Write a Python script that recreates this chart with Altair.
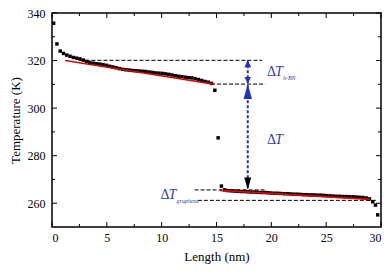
import altair as alt
import pandas as pd

# ---- data ----
length_nm = [0.15, 0.45, 0.75, 1.05, 1.35, 1.65, 1.95, 2.25, 2.55, 2.85,
             3.15, 3.45, 3.75, 4.05, 4.35, 4.65, 4.95, 5.25, 5.55, 5.85,
             6.15, 6.45, 6.75, 7.05, 7.35, 7.65, 7.95, 8.25, 8.55, 8.85,
             9.15, 9.45, 9.75, 10.05, 10.35, 10.65, 10.95, 11.25, 11.55, 11.85,
             12.15, 12.45, 12.75, 13.05, 13.35, 13.65, 13.95, 14.25, 14.55, 14.85,
             15.15, 15.45, 15.75, 16.05, 16.35, 16.65, 16.95, 17.25, 17.55, 17.85,
             18.15, 18.45, 18.75, 19.05, 19.35, 19.65, 19.95, 20.25, 20.55, 20.85,
             21.15, 21.45, 21.75, 22.05, 22.35, 22.65, 22.95, 23.25, 23.55, 23.85,
             24.15, 24.45, 24.75, 25.05, 25.35, 25.65, 25.95, 26.25, 26.55, 26.85,
             27.15, 27.45, 27.75, 28.05, 28.35, 28.65, 28.95, 29.25, 29.5, 29.7]
temp_K = [335.7, 327.0, 324.0, 323.0, 322.3, 321.8, 321.3, 321.0, 320.7, 320.2,
          319.6, 319.2, 318.9, 318.7, 318.5, 318.3, 318.0, 317.6, 317.3, 317.0,
          316.6, 316.3, 316.1, 316.0, 315.8, 315.7, 315.6, 315.5, 315.4, 315.2,
          315.0, 314.8, 314.7, 314.6, 314.4, 314.2, 313.9, 313.6, 313.4, 313.2,
          313.0, 312.8, 312.7, 312.4, 312.0, 311.6, 311.2, 310.9, 310.4, 307.5,
          287.5, 267.2, 265.6, 265.3, 265.2, 265.1, 265.0, 264.9, 264.9, 264.8,
          264.7, 264.7, 264.6, 264.5, 264.5, 264.4, 264.3, 264.2, 264.2, 264.1,
          264.0, 264.0, 263.9, 263.8, 263.8, 263.7, 263.6, 263.6, 263.5, 263.5,
          263.4, 263.4, 263.3, 263.2, 263.1, 263.0, 262.9, 262.9, 262.8, 262.8,
          262.7, 262.7, 262.6, 262.5, 262.4, 262.2, 261.8, 260.6, 259.2, 255.1]

# linear fits (red)
fit_id = ["hbn", "hbn", "gr", "gr"]
fit_x = [1.2, 14.8, 15.3, 29.0]
fit_y = [320.0, 310.0, 265.4, 261.6]

# dashed reference levels
ref_x1 = [2.5, 14.5, 13.0, 13.3]
ref_x2 = [19.15, 19.45, 19.6, 29.6]
ref_y = [320.1, 310.1, 265.6, 261.2]

# arrow (Delta T markers)
arrow_x = 17.85
arrow_top = 320.1
arrow_mid = 310.1
arrow_bot = 265.8

# annotations
ann_x = [19.6, 19.6, 9.9]
ann_y = [313.6, 284.8, 261.6]
ann_sub = ["h-BN", "", "graphene"]

# axis ticks
x_major = [0, 5, 10, 15, 20, 25, 30]
x_minor = [2.5, 7.5, 12.5, 17.5, 22.5, 27.5]
y_major = [260, 280, 300, 320, 340]
y_minor = [270, 290, 310, 330]

W, H = 329, 214
FONT = "Liberation Serif"
BLUE = "#2233bb"
TBLUE = "#3040b0"

xs = alt.Scale(domain=[0, 30], nice=False, zero=False)
ys = alt.Scale(domain=[250, 340], nice=False, zero=False)

df = pd.DataFrame({"x": length_nm, "y": temp_K})
fit = pd.DataFrame({"id": fit_id, "x": fit_x, "y": fit_y})
ref = pd.DataFrame({"x1": ref_x1, "x2": ref_x2, "y": ref_y})
ann = pd.DataFrame({"x": ann_x, "y": ann_y, "sub": ann_sub})

X = alt.X("x:Q", scale=xs, title="Length (nm)",
          axis=alt.Axis(values=x_major, labelPadding=5, titlePadding=7))
Y = alt.Y("y:Q", scale=ys, title="Temperature (K)",
          axis=alt.Axis(values=y_major, labelPadding=7, titlePadding=5))

pts = alt.Chart(df).mark_square(size=12, color="black", opacity=1).encode(x=X, y=Y)

fitl = alt.Chart(fit).mark_line(color="#e00000", strokeWidth=1.6).encode(
    x=alt.X("x:Q", scale=xs), y=alt.Y("y:Q", scale=ys), detail="id:N")

refl = alt.Chart(ref).mark_rule(color="black", strokeWidth=1, strokeDash=[4, 2]).encode(
    x=alt.X("x1:Q", scale=xs), x2="x2:Q", y=alt.Y("y:Q", scale=ys))

vline = alt.Chart(pd.DataFrame({"x": [arrow_x], "y1": [arrow_top], "y2": [arrow_bot]})).mark_rule(
    color=BLUE, strokeWidth=2, strokeDash=[3, 2]).encode(
    x=alt.X("x:Q", scale=xs), y=alt.Y("y1:Q", scale=ys), y2="y2:Q")

def head(xv, yv, path, color):
    return alt.Chart(pd.DataFrame({"x": [xv], "y": [yv]})).mark_point(
        shape=path, size=400, filled=True, color=color, opacity=1, strokeWidth=0).encode(
        x=alt.X("x:Q", scale=xs), y=alt.Y("y:Q", scale=ys))

heads = (head(arrow_x, arrow_top, "M0,0L-0.35,0.7L0.35,0.7Z", BLUE)
         + head(arrow_x, arrow_mid + 0.3, "M0,0L-0.33,-0.65L0.33,-0.65Z", BLUE)
         + head(arrow_x, arrow_mid, "M0,0L-0.42,1.5L0.42,1.5Z", BLUE)
         + head(arrow_x, arrow_bot, "M0,0L-0.35,-1.2L0.35,-1.2Z", "black"))

tbase = alt.Chart(ann).encode(x=alt.X("x:Q", scale=xs), y=alt.Y("y:Q", scale=ys))
t_delta = tbase.mark_text(text="Δ", font=FONT, fontSize=14, color=TBLUE,
                          align="left", baseline="alphabetic")
t_T = tbase.mark_text(text="T", font=FONT, fontSize=14, fontStyle="italic", color=TBLUE,
                      align="left", baseline="alphabetic", dx=8)
t_sub = tbase.mark_text(font=FONT, fontSize=6, fontStyle="italic", color=TBLUE,
                        align="left", baseline="alphabetic", dx=16, dy=4).encode(text="sub:N")

def xticks(vals, y0, y1):
    return alt.Chart(pd.DataFrame({"v": vals})).mark_rule(color="black", strokeWidth=1).encode(
        x=alt.X("v:Q", scale=xs), y=alt.value(y0), y2=alt.value(y1))

def yticks(vals, x0, x1):
    return alt.Chart(pd.DataFrame({"v": vals})).mark_rule(color="black", strokeWidth=1).encode(
        y=alt.Y("v:Q", scale=ys), x=alt.value(x0), x2=alt.value(x1))

ticks = (xticks(x_major, H, H - 5) + xticks(x_minor, H, H - 3)
         + xticks(x_major, 0, 5) + xticks(x_minor, 0, 3)
         + yticks(y_major, 0, 5) + yticks(y_minor, 0, 3)
         + yticks(y_major, W, W - 5) + yticks(y_minor, W, W - 3))

chart = alt.layer(ticks, refl, pts, fitl, vline, heads, t_delta, t_T, t_sub).properties(
    width=W, height=H,
    autosize=alt.AutoSizeParams(type="none"),
    padding={"left": 44, "top": 5, "right": 1, "bottom": 42},
).configure_view(stroke="black", strokeWidth=1.5).configure_axis(
    grid=False, domain=False, ticks=False,
    labelFont=FONT, labelFontSize=12, labelColor="black",
    titleFont=FONT, titleFontSize=13, titleFontWeight="normal", titleColor="black",
)

chart.save("out.html", embed_options={"renderer": "svg", "actions": False})
